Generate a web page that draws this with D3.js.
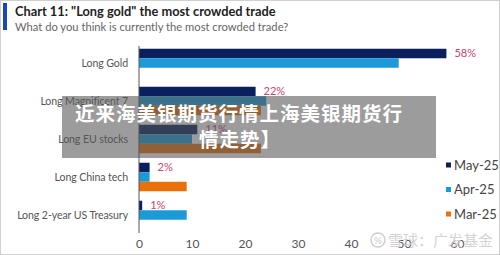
<!DOCTYPE html>
<html><head><meta charset="utf-8">
<script src="https://cdn.jsdelivr.net/npm/d3@7/dist/d3.min.js"></script>
<style>
html,body{margin:0;padding:0;background:#fff;}
svg{display:block;}
</style></head>
<body>
<svg id="c" width="500" height="255"></svg>
<script>
const categories = ["Long Gold", "Long Magnificent 7", "Long EU stocks", "Long China tech", "Long 2-year US Treasury"];
const seriesNames = ["May-25", "Apr-25", "Mar-25"];
const may25 = [58, 22, 11, 2, 0.6];
const apr25 = [49, 24, 10, 2, 9];
const mar25 = [null, 23, 23, 9, null];
const xTicks = [0, 10, 20, 30, 40, 50, 60];
const colors = ["#0b1f5e", "#1c9ad8", "#e8710c"];
const seriesValues = [may25, apr25, mar25];

const svg = d3.select("#c");
const font = "Lato, 'Open Sans', sans-serif";

// frame
svg.append("rect").attr("x",0.5).attr("y",0.5).attr("width",499).attr("height",254)
  .attr("fill","#fff").attr("stroke","#d0d0d0");

// title block
svg.append("rect").attr("x",3).attr("y",3).attr("width",4).attr("height",27).attr("fill","#1a49b5");
svg.append("text").attr("x",15).attr("y",16).attr("font-family",font).attr("font-weight","bold")
  .attr("font-size",12.8).attr("fill","#222").text('Chart 11: "Long gold" the most crowded trade');
svg.append("text").attr("x",15).attr("y",31).attr("font-family",font)
  .attr("font-size",11.2).attr("fill","#666").text("What do you think is currently the most crowded trade?");

const x = d3.scaleLinear().domain([0, 60]).range([139, 457]);
const y0 = d3.scaleBand().domain(categories).range([44, 234]).paddingInner(0.25).paddingOuter(0.125);
const y1 = d3.scaleBand().domain(seriesNames).range([0, y0.bandwidth()]);

// bars
const groups = svg.append("g").selectAll("g").data(categories).join("g")
  .attr("transform", d => `translate(0,${y0(d)})`);
groups.selectAll("rect").data((d,i) => seriesNames.map((s,j) => ({s, j, v: seriesValues[j][i]})))
  .join("rect")
  .filter(d => d.v != null)
  .attr("x", x(0)).attr("y", d => y1(d.s))
  .attr("width", d => x(d.v) - x(0)).attr("height", y1.bandwidth())
  .attr("fill", d => colors[d.j]);

// value labels (May)
groups.append("text")
  .attr("x", (d,i) => x(may25[i]) + 8)
  .attr("y", y1("May-25") + y1.bandwidth()/2 + 3)
  .attr("font-family", font).attr("font-size", 11).attr("fill", "#c9446b")
  .text((d,i) => Math.round(may25[i]) + "%");

// category axis
svg.append("line").attr("x1", x(0)).attr("x2", x(0)).attr("y1", 46).attr("y2", 233)
  .attr("stroke", "#555").attr("stroke-width", 1);
svg.append("g").selectAll("text").data(categories).join("text")
  .attr("x", 128).attr("y", d => y0(d) + y0.bandwidth()/2 + 4)
  .attr("text-anchor","end").attr("font-family", font).attr("font-size", 10.6)
  .attr("letter-spacing", -0.1).attr("fill","#555")
  .text(d => d);

// x axis tick labels
const xAxis = d3.axisBottom(x).tickValues(xTicks).tickSize(0).tickPadding(0);
const gx = svg.append("g").attr("transform","translate(0,239)").call(xAxis);
gx.select(".domain").remove();
gx.selectAll("text").attr("font-family", font).attr("font-size", 12).attr("fill","#555");

// legend
const lg = svg.append("g").selectAll("g").data(seriesNames).join("g")
  .attr("transform", (d,i) => `translate(446,${165 + i*24.5})`);
lg.append("rect").attr("x",0).attr("y",-2.5).attr("width",5).attr("height",5).attr("fill",(d,i)=>colors[i]);
lg.append("text").attr("x",8).attr("y",4.5).attr("font-family",font).attr("font-size",13).attr("fill","#444").text(d=>d);

// watermark
const wm = svg.append("g").attr("opacity",0.9);
wm.append("circle").attr("cx",378).attr("cy",240).attr("r",7).attr("fill","none").attr("stroke","#c8c8c8").attr("stroke-width",1.3);
wm.append("text").attr("x",378).attr("y",244).attr("text-anchor","middle").attr("font-family",font)
  .attr("font-size",10).attr("fill","#c8c8c8").text("%");
wm.append("text").attr("x",388).attr("y",246).attr("font-family","'Noto Sans CJK SC', sans-serif")
  .attr("font-size",15).attr("fill","#cfcfcf").text("雪球：广发基金");

// overlay
svg.append("rect").attr("x",62).attr("y",96).attr("width",374).attr("height",62)
  .attr("fill","rgb(85,85,85)").attr("fill-opacity",0.58);
const ov = svg.append("g").attr("font-family","'Noto Sans CJK SC', sans-serif").attr("font-weight","bold")
  .attr("font-size",19.5).attr("fill","#fff").attr("text-anchor","middle");
ov.append("text").attr("x",239).attr("y",121).attr("letter-spacing",1).text("近来海美银期货行情上海美银期货行");
ov.append("text").attr("x",240).attr("y",147).attr("letter-spacing",1).text("情走势】");
</script>
</body></html>
